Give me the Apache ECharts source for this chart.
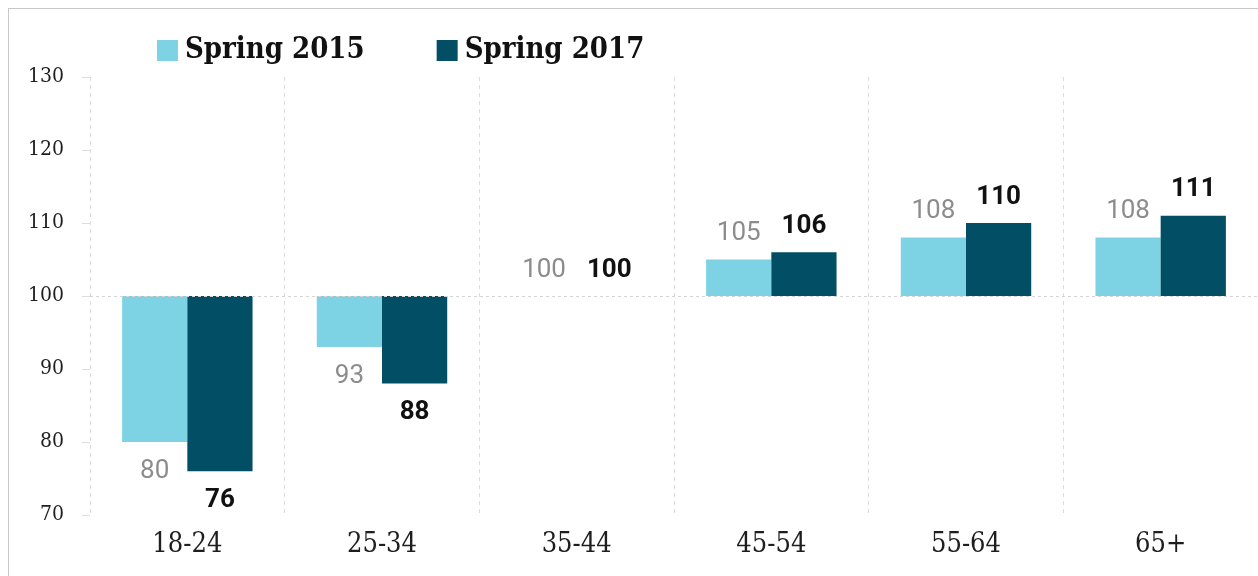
<!DOCTYPE html>
<html>
<head>
<meta charset="utf-8">
<script src="https://cdn.jsdelivr.net/npm/echarts@6/dist/echarts.min.js"></script>
<style>
html,body{margin:0;padding:0;background:#fff;}
#frame{position:absolute;left:8px;top:8px;width:1260px;height:580px;border-top:1px solid #c8c8c8;border-left:1px solid #c8c8c8;}
#chart{position:absolute;left:0;top:0;width:1258px;height:576px;}
</style>
</head>
<body>
<div id="frame"></div>
<div id="chart"></div>
<script>
const categories = ['18-24', '25-34', '35-44', '45-54', '55-64', '65+'];
const spring2015 = [80, 93, 100, 105, 108, 108];
const spring2017 = [76, 88, 100, 106, 110, 111];
const baseline = 100;
const yTicks = [70, 80, 90, 100, 110, 120, 130];

const slab = "'DejaVu Serif Condensed', 'DejaVu Serif', serif";
const sans = "Roboto, 'Noto Sans', sans-serif";

function mk(vals, labelStyle, dist) {
  return vals.map(v => ({
    value: v - baseline,
    label: Object.assign({
      show: true,
      position: v >= baseline ? 'top' : 'bottom',
      distance: v >= baseline ? dist[0] : dist[1],
      formatter: String(v)
    }, labelStyle)
  }));
}

const chart = echarts.init(document.getElementById('chart'));
chart.setOption({
  animation: false,
  legend: {
    top: 31,
    left: 152,
    itemWidth: 21,
    itemHeight: 21,
    itemGap: 72,
    icon: 'rect',
    textStyle: {fontFamily: slab, fontWeight: 'bold', fontSize: 29, color: '#111', padding: [0, 0, 0, 2]},
    data: ['Spring 2015', 'Spring 2017']
  },
  grid: {left: 90, right: -2, top: 77, bottom: 61, containLabel: false},
  xAxis: {
    type: 'category',
    data: categories,
    axisLine: {show: false},
    axisTick: {show: false},
    axisLabel: {fontFamily: slab, fontSize: 27, color: '#1e1e1e', margin: 16},
    splitLine: {show: true, lineStyle: {color: '#dcdcdc', type: [4, 4], width: 1}}
  },
  yAxis: {
    type: 'value',
    min: yTicks[0] - baseline,
    max: yTicks[yTicks.length - 1] - baseline,
    interval: 10,
    axisLine: {show: false},
    axisTick: {show: true, length: 8, lineStyle: {color: '#dedede'}},
    splitLine: {show: false},
    axisLabel: {fontFamily: slab, fontSize: 21, color: '#1e1e1e', margin: 26,
      formatter: v => String(v + baseline)}
  },
  series: [
    {
      name: 'Spring 2015',
      type: 'bar',
      barGap: '0%',
      barCategoryGap: '33%',
      itemStyle: {color: '#7dd3e3'},
      data: mk(spring2015, {fontFamily: sans, fontSize: 26, color: '#8c8c8c', fontWeight: 'normal'}, [13, 16]),
      markLine: {
        silent: true,
        symbol: 'none',
        label: {show: false},
        lineStyle: {color: '#d4d4d4', type: [3, 3], width: 1},
        data: [{yAxis: 0}]
      }
    },
    {
      name: 'Spring 2017',
      type: 'bar',
      itemStyle: {color: '#024e64'},
      data: mk(spring2017, {fontFamily: sans, fontSize: 26, color: '#111', fontWeight: 'bold'}, [13, 16])
    }
  ]
});
</script>
</body>
</html>
